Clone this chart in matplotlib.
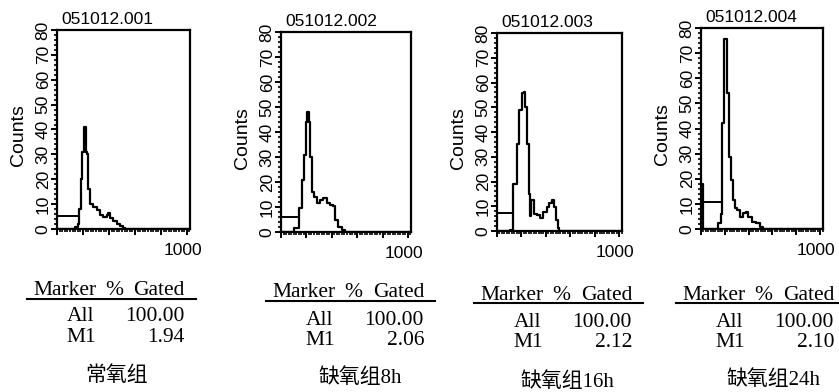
import matplotlib
matplotlib.use('Agg')
import matplotlib.pyplot as plt
import matplotlib.transforms as mtransforms
from matplotlib.ticker import MultipleLocator
from matplotlib.lines import Line2D

W, H = 839, 392

# sample names and group labels
titles = ['051012.001', '051012.002', '051012.003', '051012.004']
group_labels = ['常氧组', '缺氧组8h', '缺氧组16h', '缺氧组24h']
markers = ['All', 'M1']
all_gated = [100.00, 100.00, 100.00, 100.00]
m1_gated = [1.94, 2.06, 2.12, 2.10]

# DNA histograms (channel, counts)
ch1 = [0, 116, 138, 162, 172, 184, 195, 210, 223, 233, 241, 254, 278, 305, 331, 354, 383, 392, 408, 431, 460, 485, 508, 520, 1024]
cnt1 = [0, 0, 0.8, 2, 8, 20, 31, 41, 31, 30, 16, 10, 9, 7.5, 5.5, 5, 5.8, 6.5, 4.6, 3.2, 2, 1.2, 0.3, 0, 0]

ch2 = [0, 84, 100, 144, 163, 181, 197, 207, 218, 228, 242, 260, 281, 307, 333, 359, 386, 408, 425, 452, 478, 504, 1024]
cnt2 = [0, 0, 1.5, 9.5, 21, 31, 44, 48, 44, 30, 16, 14, 11.6, 12.8, 13.5, 11.6, 10.8, 10.6, 4.8, 2, 0.8, 0, 0]

ch3 = [0, 107, 134, 167, 183, 202, 221, 232, 248, 262, 270, 279, 303, 325, 352, 380, 407, 429, 447, 467, 483, 497, 511, 1024]
cnt3 = [0, 0.4, 19, 35, 49, 55.6, 56.3, 50, 35, 15, 6, 12.5, 7, 6.5, 5.1, 7.8, 9.8, 11.4, 12.5, 9.8, 4.6, 1.4, 0, 0]

ch4 = [0, 16, 131, 145, 165, 176, 196, 221, 232, 249, 266, 286, 305, 328, 355, 378, 397, 425, 462, 496, 523, 1024]
cnt4 = [18, 0, 0, 2.3, 6, 42, 75.5, 54, 28.8, 19.5, 11.5, 8.2, 7.6, 4.9, 6.2, 6.9, 4.9, 2.9, 2.3, 0.9, 0, 0]

channels = [ch1, ch2, ch3, ch4]
counts = [cnt1, cnt2, cnt3, cnt4]

# M1 marker bar: end channel and height
m1_end = [164, 144, 128, 168]
m1_level = [5.3, 6.1, 7.4, 10.9]

# layout in pixels: axes box (left, top, right, bottom)
boxes = [(57, 30, 190, 229), (281, 32, 411, 232), (497, 33, 622, 231), (701, 28, 823, 229)]
# table: header left x, header baseline, rule y, row baselines, label centre
tables = [
    dict(x=33, hy=295, ly=299, r1=321, r2=342, lx=117, lyc=376),
    dict(x=272, hy=297, ly=301, r1=325, r2=345, lx=360, lyc=378),
    dict(x=480, hy=300, ly=303, r1=327, r2=347, lx=567, lyc=382),
    dict(x=682, hy=300, ly=303, r1=327, r2=347, lx=773, lyc=380),
]


def fx(px):
    return px / W


def fy(py):
    return 1 - py / H


sans = 'Liberation Sans'
serif = 'Liberation Serif'

fig = plt.figure(figsize=(W / 100, H / 100), dpi=100)
shift = mtransforms.ScaledTranslation(-4 / 100, 0, fig.dpi_scale_trans)

for i in range(4):
    l, t, r, b = boxes[i]
    ax = fig.add_axes([fx(l), fy(b), (r - l) / W, (b - t) / H])
    ax.step(channels[i], counts[i], where='post', color='k', lw=1.6)
    ax.plot([0, m1_end[i]], [m1_level[i], m1_level[i]], color='k', lw=1.4)
    ax.set_xlim(0, 1024)
    ax.set_ylim(0, 80)
    for s in ax.spines.values():
        s.set_linewidth(1.6)

    ax.set_xticks(range(0, 1001, 200), ['', '', '', '', '', '1000'])
    ax.xaxis.set_minor_locator(MultipleLocator(20))
    ax.yaxis.set_major_locator(MultipleLocator(10))
    ax.yaxis.set_minor_locator(MultipleLocator(2))
    ax.tick_params(which='major', length=4, width=1.4)
    ax.tick_params(which='minor', length=2.5, width=1.2)
    ax.tick_params(axis='x', labelsize=12.5, pad=6)
    ax.tick_params(axis='y', labelrotation=90, pad=0.5, labelsize=12.5)
    for lab in ax.get_yticklabels():
        lab.set_va('center')
        lab.set_family(sans)
    for lab in ax.get_xticklabels():
        lab.set_family(sans)
        lab.set_transform(lab.get_transform() + shift)

    ax.text(-38 / (r - l), 0.47, 'Counts', transform=ax.transAxes,
            rotation=90, ha='center', va='center', fontsize=14, family=sans)
    ax.text(4 / (r - l), 1 + 6 / (b - t), titles[i], transform=ax.transAxes,
            ha='left', va='baseline', fontsize=12.5, family=sans)

    # gating table under each histogram
    tb = tables[i]
    x0 = tb['x']
    fig.text(fx(x0), fy(tb['hy']), 'Marker', ha='left', va='baseline', fontsize=15.5, family=serif)
    fig.text(fx(x0 + 81), fy(tb['hy']), '%', ha='center', va='baseline', fontsize=15.5, family=serif)
    fig.text(fx(x0 + 152), fy(tb['hy']), 'Gated', ha='right', va='baseline', fontsize=15.5, family=serif)
    fig.add_artist(Line2D([fx(x0 - 6), fx(x0 + 163)], [fy(tb['ly']), fy(tb['ly'])], color='k', lw=1.5))
    vals = [all_gated[i], m1_gated[i]]
    for name, v, yb in zip(markers, vals, [tb['r1'], tb['r2']]):
        fig.text(fx(x0 + 48), fy(yb), name, ha='center', va='baseline', fontsize=15.5, family=serif)
        fig.text(fx(x0 + 152), fy(yb), f'{v:.2f}', ha='right', va='baseline', fontsize=15.5, family=serif)
    fig.text(fx(tb['lx']), fy(tb['lyc']), group_labels[i], ha='center', va='center',
             fontsize=15, family=[serif, 'Noto Sans CJK SC'])

fig.savefig('out.png', dpi=100)
